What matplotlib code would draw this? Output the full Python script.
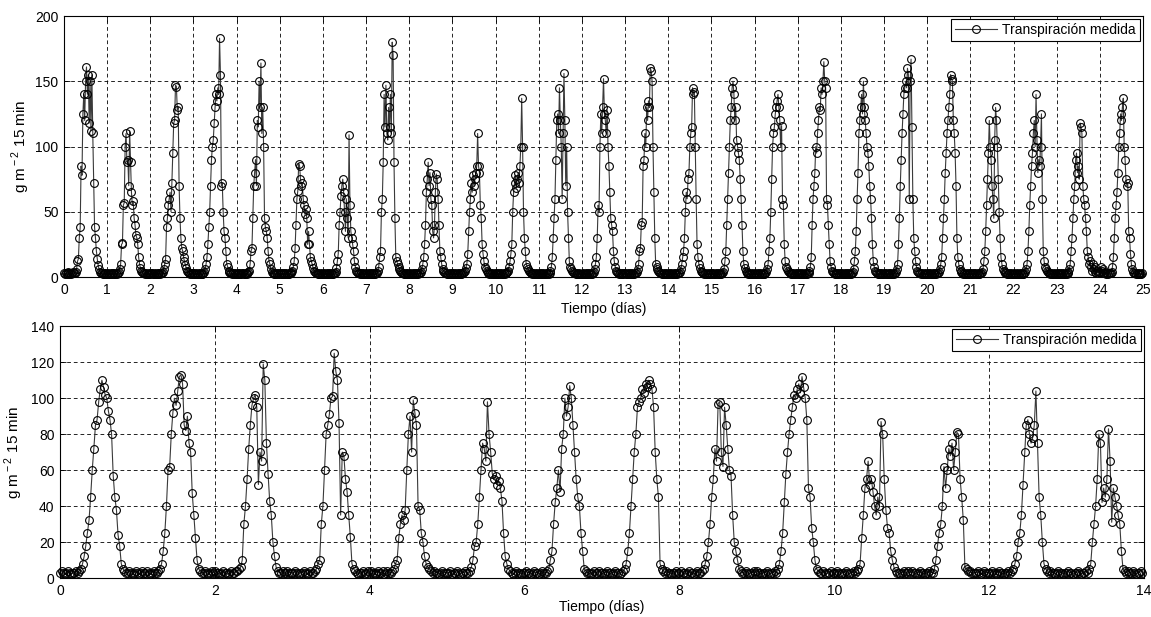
import matplotlib
matplotlib.use('Agg')
import matplotlib.pyplot as plt
import numpy as np

plt.rcParams['font.family'] = ['Liberation Sans', 'DejaVu Sans']
plt.rcParams['mathtext.fontset'] = 'custom'
plt.rcParams['mathtext.rm'] = 'Liberation Sans'

SAMPLES_PER_DAY = 48  # values read every 30 min

# top panel: 25 days, g m-2 per 15 min
top_days = [
    [3, 2, 3, 2, 4, 3, 2, 3, 2, 3, 4, 3, 3, 4, 6, 12, 14, 30, 38, 85, 78, 125, 140, 120, 150, 161, 140, 155, 118, 150, 112, 155, 110, 72, 38, 30, 20, 14, 9, 6, 4, 3, 3, 2, 3, 2, 3, 2],
    [2, 3, 2, 2, 3, 2, 3, 3, 2, 2, 3, 2, 3, 4, 6, 10, 25, 26, 55, 57, 100, 110, 88, 90, 70, 112, 88, 65, 55, 58, 45, 40, 32, 30, 25, 15, 10, 7, 5, 4, 3, 3, 2, 3, 2, 2, 3, 2],
    [2, 3, 3, 2, 2, 3, 2, 2, 3, 2, 3, 2, 3, 3, 4, 6, 10, 14, 38, 45, 55, 60, 65, 50, 72, 95, 118, 120, 147, 146, 128, 130, 70, 45, 30, 22, 20, 15, 12, 9, 7, 5, 4, 3, 2, 3, 2, 3],
    [3, 2, 2, 3, 2, 2, 3, 2, 3, 2, 2, 3, 4, 6, 10, 15, 25, 38, 50, 70, 90, 100, 105, 118, 130, 140, 135, 145, 140, 183, 155, 70, 72, 50, 35, 30, 20, 10, 8, 5, 4, 3, 3, 2, 3, 2, 3, 2],
    [2, 3, 2, 3, 2, 2, 3, 3, 2, 2, 3, 2, 3, 4, 5, 10, 20, 22, 45, 70, 80, 90, 70, 120, 115, 150, 130, 164, 110, 130, 100, 45, 38, 35, 30, 20, 12, 10, 6, 4, 3, 3, 2, 2, 3, 2, 3, 2],
    [3, 2, 3, 2, 2, 3, 2, 3, 2, 2, 2, 3, 3, 4, 5, 8, 12, 22, 40, 60, 66, 87, 85, 75, 70, 72, 60, 55, 48, 52, 45, 25, 35, 25, 15, 12, 10, 7, 5, 4, 3, 3, 2, 3, 2, 2, 3, 2],
    [2, 3, 2, 2, 3, 2, 2, 3, 2, 3, 2, 2, 3, 3, 4, 7, 12, 18, 40, 50, 62, 70, 75, 65, 50, 35, 60, 45, 30, 109, 55, 35, 30, 25, 20, 12, 8, 5, 4, 3, 3, 2, 3, 2, 2, 3, 2, 2],
    [3, 2, 2, 3, 2, 3, 2, 2, 3, 2, 2, 3, 3, 5, 8, 15, 20, 50, 60, 88, 140, 115, 147, 110, 105, 130, 115, 140, 110, 180, 170, 88, 45, 15, 12, 10, 8, 6, 5, 4, 3, 3, 2, 2, 3, 2, 3, 2],
    [2, 3, 2, 2, 3, 2, 3, 2, 2, 3, 2, 3, 3, 4, 6, 10, 15, 25, 40, 65, 75, 88, 70, 80, 60, 55, 35, 30, 40, 65, 79, 75, 60, 40, 20, 15, 10, 6, 5, 4, 3, 3, 2, 2, 3, 2, 2, 3],
    [3, 2, 2, 3, 2, 2, 3, 2, 3, 2, 2, 3, 3, 4, 5, 7, 10, 18, 35, 50, 60, 72, 65, 78, 70, 75, 80, 85, 110, 85, 80, 55, 45, 25, 18, 12, 8, 6, 5, 4, 3, 2, 3, 2, 3, 2, 2, 3],
    [2, 3, 2, 2, 3, 2, 3, 2, 2, 3, 2, 3, 3, 4, 5, 8, 12, 18, 25, 50, 65, 72, 78, 68, 75, 80, 72, 85, 100, 137, 100, 50, 30, 20, 10, 8, 6, 5, 4, 3, 3, 2, 3, 2, 2, 3, 2, 2],
    [3, 2, 3, 2, 2, 3, 2, 2, 3, 2, 3, 2, 3, 5, 8, 15, 30, 45, 60, 90, 120, 125, 110, 145, 120, 100, 60, 110, 156, 120, 70, 100, 50, 30, 12, 8, 6, 5, 4, 3, 3, 2, 2, 3, 2, 3, 2, 2],
    [2, 3, 2, 2, 3, 2, 2, 3, 2, 3, 2, 2, 3, 4, 6, 10, 15, 30, 55, 50, 100, 125, 110, 130, 152, 125, 120, 110, 128, 100, 85, 65, 45, 40, 35, 20, 12, 8, 5, 4, 3, 2, 3, 2, 3, 2, 2, 3],
    [3, 2, 2, 3, 2, 3, 2, 2, 3, 2, 2, 3, 3, 4, 6, 10, 20, 22, 40, 42, 85, 90, 110, 100, 130, 120, 135, 130, 160, 158, 150, 100, 65, 30, 10, 8, 6, 5, 4, 3, 3, 2, 2, 3, 2, 3, 2, 2],
    [2, 3, 2, 3, 2, 2, 3, 2, 2, 3, 2, 3, 3, 4, 6, 10, 15, 20, 30, 50, 65, 60, 75, 80, 100, 110, 115, 145, 140, 142, 100, 60, 25, 15, 10, 7, 5, 4, 4, 3, 2, 3, 2, 2, 3, 2, 2, 3],
    [3, 2, 3, 2, 2, 3, 2, 3, 2, 2, 3, 2, 3, 4, 6, 12, 20, 40, 60, 80, 100, 120, 130, 145, 150, 140, 120, 130, 105, 100, 95, 90, 75, 60, 40, 20, 10, 7, 5, 4, 3, 2, 3, 2, 2, 3, 2, 2],
    [2, 3, 2, 2, 3, 2, 3, 2, 2, 3, 2, 2, 3, 4, 6, 10, 20, 30, 50, 75, 100, 110, 115, 125, 130, 135, 140, 130, 120, 100, 116, 60, 55, 25, 12, 8, 6, 5, 4, 3, 3, 2, 2, 3, 2, 2, 3, 2],
    [3, 2, 2, 3, 2, 3, 2, 2, 3, 2, 2, 3, 3, 5, 8, 15, 40, 60, 70, 80, 100, 95, 110, 120, 130, 128, 145, 140, 150, 165, 150, 145, 60, 55, 40, 25, 12, 8, 5, 4, 3, 2, 3, 2, 2, 3, 2, 3],
    [2, 3, 2, 2, 3, 2, 2, 3, 2, 3, 2, 2, 3, 4, 6, 12, 20, 35, 60, 80, 110, 120, 130, 140, 125, 150, 130, 120, 110, 100, 95, 85, 70, 60, 45, 25, 12, 8, 5, 4, 3, 2, 2, 3, 2, 3, 2, 2],
    [3, 2, 3, 2, 2, 3, 2, 3, 2, 2, 3, 2, 3, 4, 6, 10, 25, 45, 70, 90, 110, 125, 140, 145, 150, 145, 160, 155, 60, 150, 167, 115, 60, 30, 20, 12, 8, 5, 4, 3, 3, 2, 3, 2, 2, 3, 2, 2],
    [2, 3, 2, 3, 2, 2, 3, 2, 2, 3, 2, 3, 3, 4, 6, 10, 15, 30, 45, 60, 80, 95, 110, 120, 130, 140, 155, 152, 150, 120, 110, 95, 70, 30, 15, 10, 6, 5, 4, 3, 2, 3, 2, 2, 3, 2, 2, 3],
    [3, 2, 2, 3, 2, 3, 2, 2, 3, 2, 2, 3, 3, 4, 6, 12, 20, 35, 55, 75, 95, 120, 100, 90, 70, 60, 45, 105, 130, 120, 100, 75, 50, 30, 15, 10, 6, 5, 4, 3, 3, 2, 2, 3, 2, 3, 2, 2],
    [2, 3, 2, 2, 3, 2, 2, 3, 2, 3, 2, 2, 3, 4, 6, 10, 20, 35, 55, 70, 85, 95, 110, 120, 100, 140, 105, 80, 90, 85, 100, 125, 60, 20, 12, 8, 6, 5, 4, 3, 3, 2, 3, 2, 2, 3, 2, 2],
    [3, 2, 3, 2, 2, 3, 2, 3, 2, 2, 3, 2, 3, 4, 6, 10, 20, 30, 45, 60, 70, 90, 95, 80, 85, 75, 118, 115, 110, 70, 60, 55, 45, 35, 20, 15, 10, 12, 8, 5, 10, 6, 4, 8, 3, 5, 3, 4],
    [4, 8, 5, 3, 6, 3, 4, 2, 3, 2, 3, 3, 3, 4, 8, 15, 30, 45, 55, 65, 80, 100, 110, 125, 120, 130, 137, 100, 90, 75, 70, 72, 35, 30, 18, 10, 6, 4, 3, 3, 2, 3, 2, 2, 3, 2, 2, 3],
]

# bottom panel: 14 days
bottom_days = [
    [3, 4, 3, 2, 3, 4, 3, 2, 3, 3, 4, 3, 4, 5, 8, 12, 18, 25, 32, 45, 60, 72, 85, 88, 98, 105, 110, 106, 102, 100, 93, 88, 80, 57, 45, 38, 24, 18, 8, 5, 4, 3, 3, 4, 3, 2, 3, 4],
    [3, 2, 3, 4, 3, 3, 4, 3, 2, 3, 4, 3, 3, 4, 5, 8, 15, 25, 40, 60, 62, 80, 92, 100, 96, 104, 112, 113, 108, 85, 82, 90, 75, 70, 47, 35, 22, 10, 5, 4, 3, 3, 4, 3, 2, 3, 4, 3],
    [4, 3, 3, 2, 3, 4, 3, 3, 2, 3, 4, 3, 3, 4, 4, 5, 6, 10, 30, 40, 55, 72, 85, 96, 100, 102, 95, 52, 70, 65, 119, 110, 75, 58, 43, 35, 20, 12, 6, 4, 3, 3, 4, 3, 3, 4, 3, 3],
    [3, 3, 4, 3, 2, 3, 3, 4, 3, 2, 3, 4, 3, 3, 4, 5, 8, 10, 30, 40, 60, 80, 85, 91, 100, 101, 125, 115, 110, 86, 35, 70, 68, 55, 48, 35, 23, 8, 5, 4, 3, 2, 3, 3, 4, 2, 3, 4],
    [3, 4, 3, 2, 3, 4, 3, 3, 4, 2, 3, 4, 3, 3, 4, 5, 8, 10, 22, 30, 35, 32, 38, 60, 80, 90, 70, 99, 92, 85, 40, 38, 25, 20, 12, 8, 6, 5, 4, 3, 4, 3, 3, 2, 3, 4, 3, 3],
    [3, 3, 4, 2, 3, 3, 4, 3, 2, 3, 3, 4, 3, 3, 4, 6, 10, 18, 20, 30, 45, 60, 75, 72, 65, 98, 80, 70, 58, 55, 57, 52, 54, 50, 43, 25, 12, 8, 5, 4, 3, 2, 3, 4, 3, 3, 2, 3],
    [3, 4, 3, 3, 2, 3, 4, 3, 3, 2, 3, 4, 3, 3, 4, 5, 10, 15, 30, 42, 50, 60, 48, 72, 80, 100, 90, 95, 107, 100, 85, 70, 55, 45, 40, 25, 15, 5, 4, 3, 3, 2, 3, 4, 3, 3, 4, 3],
    [3, 2, 3, 4, 3, 3, 2, 3, 4, 3, 3, 2, 3, 4, 5, 8, 15, 25, 40, 55, 70, 80, 95, 98, 100, 105, 103, 108, 106, 110, 108, 105, 95, 70, 55, 45, 8, 5, 4, 3, 4, 3, 3, 2, 3, 3, 4, 3],
    [3, 4, 3, 3, 2, 3, 4, 3, 3, 2, 3, 4, 3, 3, 4, 5, 8, 12, 20, 30, 45, 55, 72, 65, 97, 98, 70, 62, 95, 85, 72, 60, 57, 35, 20, 15, 10, 5, 4, 3, 3, 4, 3, 2, 3, 3, 4, 3],
    [4, 3, 3, 2, 3, 3, 4, 3, 2, 3, 3, 4, 3, 5, 8, 15, 25, 42, 58, 70, 80, 88, 95, 102, 100, 105, 108, 103, 112, 106, 100, 88, 50, 45, 28, 20, 10, 5, 4, 3, 3, 4, 3, 2, 3, 3, 4, 3],
    [3, 3, 4, 3, 2, 3, 3, 4, 3, 2, 3, 3, 4, 3, 4, 5, 8, 22, 35, 50, 55, 65, 52, 55, 48, 40, 35, 45, 40, 87, 80, 55, 38, 28, 25, 15, 10, 6, 4, 3, 3, 2, 3, 4, 3, 3, 4, 3],
    [4, 3, 3, 2, 3, 4, 3, 3, 2, 3, 3, 4, 3, 3, 5, 10, 18, 25, 30, 40, 62, 50, 60, 72, 68, 75, 60, 70, 81, 80, 55, 45, 32, 6, 5, 4, 4, 3, 3, 3, 3, 4, 3, 2, 3, 4, 3, 3],
    [3, 3, 4, 3, 2, 3, 4, 3, 3, 2, 3, 3, 4, 3, 4, 5, 8, 12, 20, 25, 35, 52, 70, 85, 88, 80, 75, 78, 85, 104, 75, 45, 35, 20, 8, 5, 4, 3, 4, 3, 3, 2, 3, 4, 3, 3, 2, 3],
    [3, 4, 3, 3, 2, 3, 3, 4, 3, 2, 3, 3, 4, 3, 5, 8, 20, 30, 40, 55, 80, 75, 42, 50, 45, 55, 83, 65, 31, 50, 45, 40, 35, 30, 15, 5, 4, 3, 4, 3, 3, 4, 3, 2, 3, 3, 4, 3],
]

top_xticks = list(range(0, 26))
top_yticks = [0, 50, 100, 150, 200]
bottom_xticks = [0, 2, 4, 6, 8, 10, 12, 14]
bottom_yticks = [0, 20, 40, 60, 80, 100, 120, 140]

legend_label = 'Transpiración medida'
x_label = 'Tiempo (días)'
y_label = r'g m$^{\rm -2}$ 15 min'


def day_series(days):
    t, v = [], []
    for d, vals in enumerate(days):
        t.extend(d + np.arange(len(vals)) / SAMPLES_PER_DAY)
        v.extend(vals)
    return np.array(t), np.array(v)


def draw_panel(ax, days, xticks, yticks, ylab_x, xlab_y):
    t, v = day_series(days)
    ax.plot(t, v, '-', color='#3a3a3a', lw=0.8, marker='o', ms=5.6,
            mfc='none', mec='black', mew=0.8, clip_on=False,
            label=legend_label)
    ax.set_xlim(xticks[0], xticks[-1])
    ax.set_ylim(yticks[0], yticks[-1])
    ax.set_xticks(xticks)
    ax.set_yticks(yticks)
    ax.grid(True, color='black', lw=0.6, ls=(0, (4.5, 3.5)))
    ax.tick_params(direction='in', length=4, width=0.6, top=True,
                   right=True, labelsize=10, pad=4)
    for s in ax.spines.values():
        s.set_linewidth(0.8)
    ax.set_xlabel(x_label, fontsize=10)
    ax.set_ylabel(y_label, fontsize=11)
    ax.xaxis.set_label_coords(0.5, xlab_y)
    ax.yaxis.set_label_coords(ylab_x, 0.5)
    leg = ax.legend(loc='upper right', fancybox=False, framealpha=1,
                    edgecolor='black', fontsize=10, handlelength=3,
                    handletextpad=0.4, borderaxespad=0.2, borderpad=0.3)
    leg.get_frame().set_linewidth(0.8)


fig = plt.figure(figsize=(11.51, 6.17), dpi=100)
ax_top = fig.add_axes([0.0556, 0.551, 0.9375, 0.423])
ax_bot = fig.add_axes([0.0521, 0.0632, 0.9418, 0.408])

draw_panel(ax_top, top_days, top_xticks, top_yticks, -0.030, -0.096)
draw_panel(ax_bot, bottom_days, bottom_xticks, bottom_yticks, -0.032, -0.087)

fig.savefig('out.png', dpi=100)
